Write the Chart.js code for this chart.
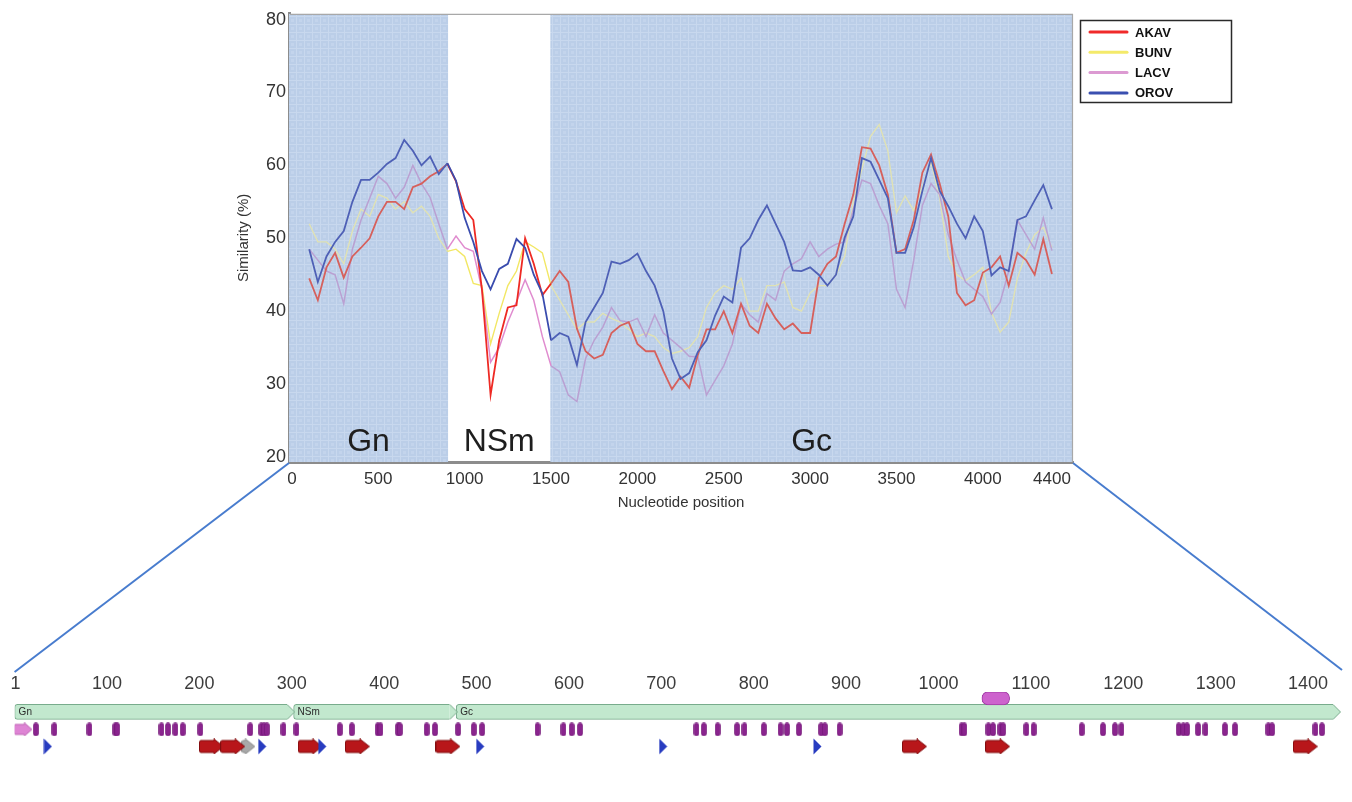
<!DOCTYPE html>
<html><head><meta charset="utf-8">
<script src="https://cdn.jsdelivr.net/npm/chart.js@4.4.1/dist/chart.umd.min.js"></script>
<style>
html,body{margin:0;padding:0;background:#fff;}
#wrap{position:relative;width:1352px;height:802px;overflow:hidden;}
#wrap canvas{position:absolute;left:0;top:0;}
</style></head><body>
<div id="wrap">
<canvas id="main" width="1352" height="802"></canvas>
<canvas id="track" width="1352" height="802"></canvas>
</div>
<script>
// ---------------- DATA: similarity plot ----------------
const positions = [100,150,200,250,300,350,400,450,500,550,600,650,700,750,800,850,900,
 950,1000,1050,1100,1150,1200,1250,1300,1350,1400,1450,1500,1550,1600,1650,1700,1750,1800,1850,1900,
 1950,2000,2050,2100,2150,2200,2250,2300,2350,2400,2450,2500,2550,2600,2650,2700,2750,2800,2850,2900,
 2950,3000,3050,3100,3150,3200,3250,3300,3350,3400,3450,3500,3550,3600,3650,3700,3750,3800,3850,3900,
 3950,4000,4050,4100,4150,4200,4250,4300,4350,4400];
const akav = [44.5,41.5,46,48,44.6,47.5,48.7,50,53,55,55,54,57,57.5,58.5,59.2,60.2,
 57.8,54,52.5,43,28.5,36,40.5,40.8,50,46.5,42.2,43.8,45.5,44,37.6,34.5,33.5,34,37,38,
 38.5,35.5,34.5,34.5,31.8,29.3,31,29.5,34,37.5,37.5,40,37,41,38,37,41,39,37.5,38.3,
 37,37,44.5,46.5,47.5,52,56,62.5,62.3,60,56,48,48.5,52.5,59,61.5,57.5,53,42.5,40.8,
 41.5,45.3,46,47.5,43.5,48,47,45,49.9,45.1];
const bunv = [52,49.5,49.5,48.5,46.5,51,54,53,56,55.5,54,55,53.5,54.4,53,50,48.2,
 48.5,47.5,43.8,43.5,35.5,39.7,43.5,45.5,49.5,48.8,48,43.5,41.5,39.5,37.5,38.5,38.5,39.7,39,38.5,
 37.5,36.5,37,36.5,35,34.2,34.5,35,36.5,40.5,42.5,43.5,43,44.5,40,40,43.5,43.5,44,40.5,
 40,42.5,43.5,43.5,45,47.5,55,59.5,64,65.6,62,53.5,55.8,53.8,57,60.5,55.5,47.5,45,44.2,
 45,46,39.8,37.1,38.5,44.5,48,50.5,51.5,48.7];
const lacv = [48.5,47,45.5,45,41,48.5,52.5,55.5,58.5,57.5,55.5,57,60,57.5,55.6,52,48.5,
 50.3,48.7,48.2,43,33,35,38.5,41.3,44.3,41.5,36.5,32.5,31.7,28.5,27.6,33.5,36,37.8,40.5,38.7,
 38.5,39,36.5,39.5,37,36,35,33.8,33.7,28.5,30.5,32.5,35.5,41,39.5,38.5,42.4,41.5,45.5,46.5,
 47.2,49.5,47.5,48.5,49.2,49.5,54,58,57.5,54.5,52,43,40.5,47,54.5,57.5,56,50.5,47,44,
 43,42,39.6,41.2,45.5,52.5,50.5,48.5,52.8,48.3];
const orov = [48.5,44,47.5,49.5,51,55,58,58,59,60.2,61,63.5,62,60,61.2,58.8,60.3,
 57.9,52.8,49.5,45.5,43,45.8,46.5,49.9,48.7,45,42.4,36,37,36.5,32.6,38.5,40.5,42.5,46.8,46.5,
 47,47.9,45.5,43.5,40,33.5,30.7,31.5,34.4,36,39.4,42,41.2,48.7,50,52.5,54.5,52,49.5,45.6,
 45.5,46,45,43.5,45,50.1,53,61,60.5,58,55.5,48,48,51.5,56.5,61,56.5,54.4,52,50,
 53,51,44.9,46,45.5,52.5,53,55.2,57.3,54];
const seriesNames = ['AKAV','BUNV','LACV','OROV'];
const xTickValues = [0,500,1000,1500,2000,2500,3000,3500,4000,4400];
const yTickValues = [20,30,40,50,60,70,80];
const regionNames = ['Gn','NSm','Gc'];
const regionStarts = [-17,904,1496];
const regionEnds = [904,1496,4522];
const regionShaded = [true,false,true];
const regionLabelY = 20.8;

// ---------------- DATA: protein track (residues) ----------------
const trackTicks = [1,100,200,300,400,500,600,700,800,900,1000,1100,1200,1300,1400];
const domainNames = ['Gn','NSm','Gc'];
const domainStarts = [0,302,478];
const domainEnds = [295,471,1427];
const tmStarts = [1047];
const tmEnds = [1077];
const glycoSites = [23,43,81,109,111,159,166,174,182,201,255,267,270,273,291,305,352,365,393,396,415,417,446,455,
 480,497,506,566,594,603,612,738,746,761,782,790,811,829,836,849,873,877,893,1025,1028,1054,1059,1067,1070,
 1095,1103,1155,1178,1191,1198,1260,1265,1269,1281,1289,1310,1321,1357,1361,1408,1415];
const triangleSites = [36,268,333,504,702,869];
const redArrowSites = [213,236,320,371,469,974,1064,1397];
const greyArrowSites = [253];
const signalSites = [9];

// ---------------- STYLES ----------------
const FONT = '"Liberation Sans", Arial, Helvetica, sans-serif';
const brightColors = ['#ee2a24','#f2e764','#e08ccf','#3a4cae'];
const mutedColors = ['rgb(214,96,92)','rgb(224,226,180)','rgb(186,160,210)','rgb(78,96,182)'];
const legendColors = ['#f02a2a','#f4ea6a','#dc9ad2','#3a4fb0'];
const lineWidths = [1.8,1.4,1.5,1.8];
const drawOrder = [1,3,2,0];
const seriesValues = [akav,bunv,lacv,orov];

function regionIndex(v){
  for(let i=0;i<regionStarts.length;i++){ if(v>=regionStarts[i] && v<regionEnds[i]) return i; }
  return regionStarts.length-1;
}

function makeImg(w,h,draw){ const c=document.createElement('canvas'); c.width=w; c.height=h; draw(c.getContext('2d'),w,h); return c; }

const patCanvas = makeImg(8,8,(g)=>{
  g.fillStyle='rgb(187,206,232)'; g.fillRect(0,0,8,8);
  g.fillStyle='rgb(200,216,238)'; g.fillRect(0,0,8,1); g.fillRect(0,0,1,8);
  g.fillStyle='rgb(195,212,236)'; g.fillRect(3,3,3,3);
});

const mainCtx = document.getElementById('main').getContext('2d');
const bluePattern = mainCtx.createPattern(patCanvas,'repeat');

const mainDeco = {
  id:'mainDeco',
  beforeDatasetsDraw(chart){
    const {ctx, chartArea:a, scales:{x,y}} = chart;
    ctx.save();
    ctx.beginPath(); ctx.rect(a.left,a.top,a.right-a.left,a.bottom-a.top); ctx.clip();
    regionNames.forEach((n,i)=>{
      if(!regionShaded[i]) return;
      const x0 = Math.max(a.left, x.getPixelForValue(regionStarts[i]));
      const x1 = Math.min(a.right, x.getPixelForValue(regionEnds[i]));
      ctx.fillStyle = bluePattern; ctx.fillRect(x0,a.top,x1-x0,a.bottom-a.top);
    });
    ctx.fillStyle='#1e1e1e'; ctx.font='32px '+FONT; ctx.textAlign='center'; ctx.textBaseline='alphabetic';
    regionNames.forEach((n,i)=>{
      const s=Math.max(regionStarts[i],x.min), e=Math.min(regionEnds[i],x.max);
      ctx.fillText(n, x.getPixelForValue((s+e)/2), y.getPixelForValue(regionLabelY));
    });
    ctx.restore();
  },
  afterDraw(chart){
    const {ctx, chartArea:a} = chart;
    ctx.save();
    ctx.strokeStyle='#a8a8a8'; ctx.lineWidth=1.2;
    ctx.beginPath(); ctx.moveTo(a.left+1,a.top+0.5); ctx.lineTo(a.right-0.5,a.top+0.5); ctx.lineTo(a.right-0.5,a.bottom); ctx.stroke();
    // legend
    const x0=a.right+7, y0=20, w=151, h=82;
    ctx.fillStyle='#fff'; ctx.fillRect(x0,y0,w,h);
    ctx.strokeStyle='#2a2a2a'; ctx.lineWidth=1.5; ctx.strokeRect(x0+0.5,y0+0.5,w,h);
    ctx.font='bold 13px '+FONT; ctx.textBaseline='middle'; ctx.textAlign='left';
    seriesNames.forEach((n,i)=>{
      const yy=y0+12+i*20.3;
      ctx.strokeStyle=legendColors[i]; ctx.lineWidth=3; ctx.lineCap='round';
      ctx.beginPath(); ctx.moveTo(x0+10,yy); ctx.lineTo(x0+47,yy); ctx.stroke();
      ctx.fillStyle='#111'; ctx.fillText(n,x0+55,yy+1);
    });
    ctx.restore();
  }
};

const mainChart = new Chart(mainCtx,{
  type:'line',
  data:{
    labels: positions,
    datasets: seriesNames.map((n,i)=>({
      label:n,
      data: positions.map((p,k)=>({x:p,y:seriesValues[i][k]})),
      borderColor: brightColors[i],
      borderWidth: lineWidths[i],
      pointRadius:0, tension:0, fill:false,
      order: drawOrder[i],
      segment:{ borderColor: c => regionShaded[regionIndex((c.p0.parsed.x+c.p1.parsed.x)/2)] ? mutedColors[i] : brightColors[i] }
    }))
  },
  options:{
    responsive:false, animation:false, devicePixelRatio:1, events:[],
    layout:{padding:{left:229,top:12,right:279,bottom:286}},
    plugins:{legend:{display:false},tooltip:{enabled:false}},
    scales:{
      x:{type:'linear',min:-17,max:4522,
        afterBuildTicks:s=>{s.ticks=xTickValues.map(v=>({value:v}));},
        afterFit:s=>{s.height=54;},
        grid:{display:false,drawTicks:false},
        border:{display:true,color:'#8c8c8c',width:3},
        ticks:{autoSkip:false,maxRotation:0,padding:7,color:'#333',font:{size:17,family:FONT},callback:v=>String(v)},
        title:{display:true,text:'Nucleotide position',color:'#333',font:{size:15,family:FONT},padding:{top:0,bottom:4}}
      },
      y:{type:'linear',min:19.3,max:80.8,
        afterBuildTicks:s=>{s.ticks=yTickValues.map(v=>({value:v}));},
        afterFit:s=>{s.width=60;},
        grid:{display:false,drawTicks:false},
        border:{display:true,color:'#8c8c8c',width:3},
        ticks:{autoSkip:false,padding:3,color:'#333',font:{size:18,family:FONT},callback:v=>String(v)},
        title:{display:true,text:'Similarity (%)',color:'#333',font:{size:15,family:FONT},padding:{top:6,bottom:0}}
      }
    }
  },
  plugins:[mainDeco]
});

// ---------------- protein track ----------------
function roundRectPath(g,x,y,w,h,r){ g.beginPath(); g.moveTo(x+r,y); g.lineTo(x+w-r,y); g.arcTo(x+w,y,x+w,y+r,r); g.lineTo(x+w,y+h-r); g.arcTo(x+w,y+h,x+w-r,y+h,r); g.lineTo(x+r,y+h); g.arcTo(x,y+h,x,y+h-r,r); g.lineTo(x,y+r); g.arcTo(x,y,x+r,y,r); g.closePath(); }
const pillImg = makeImg(6,14,(g)=>{ roundRectPath(g,0.5,0.5,5,13,2.5); g.fillStyle='rgb(138,36,142)'; g.fill(); g.strokeStyle='rgb(110,20,115)'; g.lineWidth=0.6; g.stroke(); });
function arrowImg(w,h,body,fill,stroke){ return makeImg(w,h,(g)=>{ const hx=w-Math.round(h*0.6); const bt=(h-body)/2; g.beginPath(); g.moveTo(2,bt); g.lineTo(hx,bt); g.lineTo(hx,0.5); g.lineTo(w-0.5,h/2); g.lineTo(hx,h-0.5); g.lineTo(hx,h-bt); g.lineTo(2,h-bt); g.quadraticCurveTo(0.5,h-bt,0.5,h-bt-2); g.lineTo(0.5,bt+2); g.quadraticCurveTo(0.5,bt,2,bt); g.closePath(); g.fillStyle=fill; g.fill(); g.strokeStyle=stroke; g.lineWidth=1; g.stroke(); }); }
const redArrow = arrowImg(25,16,12,'rgb(184,22,26)','rgb(130,12,14)');
const greyArrow = arrowImg(14,16,12,'rgb(168,168,168)','rgb(140,140,140)');
const pinkArrow = arrowImg(19,14,10,'rgb(222,132,212)','rgb(190,100,180)');
const blueTri = makeImg(9,17,(g)=>{ g.beginPath(); g.moveTo(0.5,0.5); g.lineTo(8.5,8.5); g.lineTo(0.5,16.5); g.closePath(); g.fillStyle='rgb(40,60,192)'; g.fill(); });
const greenFill='rgb(194,232,206)', greenLine='rgb(120,172,140)';
const greenTip = makeImg(8,16,(g)=>{ g.beginPath(); g.moveTo(0,0.5); g.lineTo(7.5,8); g.lineTo(0,15.5); g.closePath(); g.fillStyle=greenFill; g.fill(); g.strokeStyle=greenLine; g.lineWidth=1; g.beginPath(); g.moveTo(0,0.5); g.lineTo(7.5,8); g.lineTo(0,15.5); g.stroke(); });

const ROW_TM=6.5, ROW_DOM=20.5, ROW_SITE=38.5, ROW_ARROW=56;
const trackDeco = {
  id:'trackDeco',
  afterDatasetsDraw(chart){
    const {ctx, chartArea:a, scales:{x,y}} = chart;
    ctx.save();
    ctx.fillStyle='#2a2a2a'; ctx.font='10px '+FONT; ctx.textBaseline='middle'; ctx.textAlign='left';
    domainNames.forEach((n,i)=>{ ctx.fillText(n, x.getPixelForValue(domainStarts[i])+4, y.getPixelForValue(ROW_DOM)); });
    const m = mainChart.chartArea;
    ctx.strokeStyle='rgb(72,124,206)'; ctx.lineWidth=2;
    ctx.beginPath(); ctx.moveTo(m.left,m.bottom+1); ctx.lineTo(x.left,a.top-20); ctx.stroke();
    ctx.beginPath(); ctx.moveTo(m.right,m.bottom+1); ctx.lineTo(x.right-3,a.top-22); ctx.stroke();
    ctx.restore();
  }
};
const hiddenY = {type:'linear',display:false,min:0,max:108,reverse:true,offset:false,grid:{offset:false}};
const pts = (arr,row)=>arr.map(v=>({x:v,y:row}));
new Chart(document.getElementById('track').getContext('2d'),{
  type:'scatter',
  data:{datasets:[
    {type:'bar',indexAxis:'y',yAxisID:'yd',data:domainStarts.map((s,i)=>({x:[s,domainEnds[i]],y:ROW_DOM})),backgroundColor:greenFill,borderColor:greenLine,borderWidth:1,borderSkipped:'right',barThickness:15,borderRadius:{topLeft:3,bottomLeft:3,topRight:0,bottomRight:0},order:9},
    {data:pts(domainEnds.map(e=>e+4.3),ROW_DOM),pointStyle:greenTip,order:8},
    {type:'bar',indexAxis:'y',yAxisID:'yt',data:tmStarts.map((s,i)=>({x:[s,tmEnds[i]],y:ROW_TM})),backgroundColor:'rgb(205,98,205)',borderColor:'rgb(160,60,165)',borderWidth:1,borderSkipped:false,barThickness:13,borderRadius:6,order:7},
    {data:pts(glycoSites,ROW_SITE),pointStyle:pillImg,order:6},
    {data:pts(signalSites,ROW_SITE),pointStyle:pinkArrow,order:5},
    {data:pts(greyArrowSites,ROW_ARROW),pointStyle:greyArrow,order:4},
    {data:pts(redArrowSites,ROW_ARROW),pointStyle:redArrow,order:3},
    {data:pts(triangleSites,ROW_ARROW),pointStyle:blueTri,order:2}
  ]},
  options:{
    responsive:false, animation:false, devicePixelRatio:1, events:[],
    layout:{padding:{left:14.6,right:7,top:650,bottom:2}},
    plugins:{legend:{display:false},tooltip:{enabled:false}},
    scales:{
      x:{type:'linear',position:'top',min:0,max:1440,offset:false,
        afterBuildTicks:s=>{s.ticks=trackTicks.map(v=>({value:v}));},
        afterFit:s=>{s.height=42;},
        grid:{display:false,drawTicks:false},border:{display:false},
        ticks:{autoSkip:false,maxRotation:0,padding:-3,color:'#3c3c3c',font:{size:18,family:FONT},callback:v=>String(v)}
      },
      y:hiddenY,
      yd:Object.assign({axis:'y'},hiddenY),
      yt:Object.assign({axis:'y'},hiddenY)
    }
  },
  plugins:[trackDeco]
});
</script>
</body></html>
